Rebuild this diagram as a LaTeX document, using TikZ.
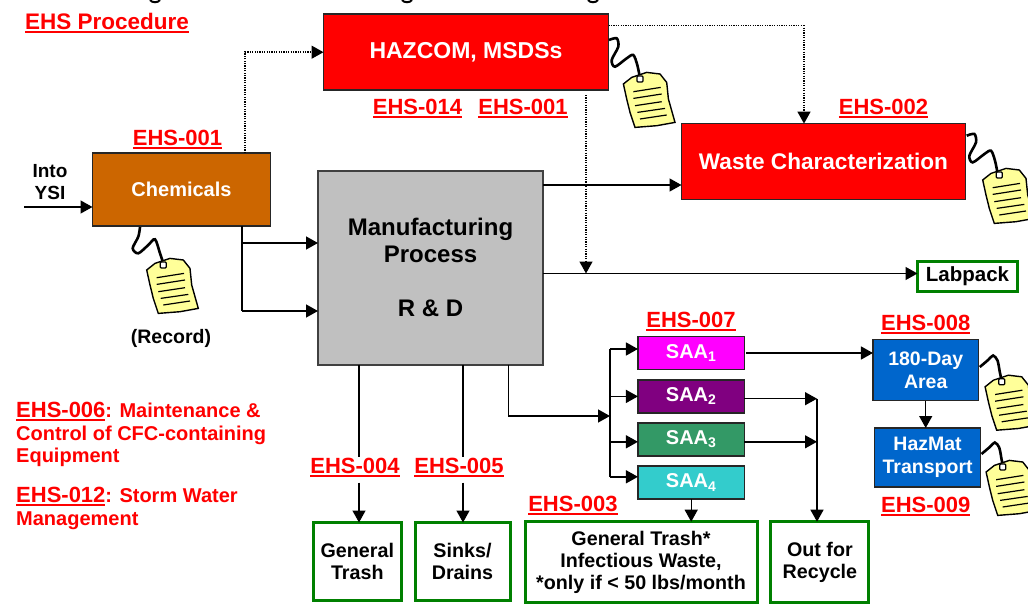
\documentclass[tikz,border=0pt]{standalone}
\usepackage{fontspec}
\setmainfont{Liberation Sans}
\usetikzlibrary{arrows.meta,positioning}
\definecolor{ehsred}{HTML}{FF0000}
\definecolor{ehsbrown}{HTML}{CC6600}
\definecolor{ehsgrey}{HTML}{C0C0C0}
\definecolor{ehsgreen}{HTML}{008000}
\definecolor{ehsblue}{HTML}{0066CC}
\definecolor{ehstag}{HTML}{FFFF99}
\definecolor{saaone}{HTML}{FF00FF}
\definecolor{saatwo}{HTML}{800080}
\definecolor{saathree}{HTML}{339966}
\definecolor{saafour}{HTML}{33CCCC}
\providecommand{\ehsline}[1]{\setbox0\hbox{#1}\rlap{\copy0}\rule[-3.5pt]{\wd0}{2pt}}
\tikzset{
  ehs box/.style={draw=black!85,line width=1.5pt,align=center,inner sep=0pt,outer sep=0pt,font=\bfseries},
  ehs sink/.style={draw=ehsgreen,line width=3pt,fill=white,align=center,inner sep=0pt,outer sep=0pt,font=\fontsize{19.7}{22}\selectfont\bfseries},
  ehs saa/.style={ehs box,minimum width=106.5pt,minimum height=33pt,text=white,font=\fontsize{20}{22}\selectfont\bfseries},
  ehs ref/.style={text=ehsred,anchor=base,inner sep=0pt,font=\fontsize{22}{24}\selectfont\bfseries},
  ehs note/.style={inner sep=0pt,align=center,font=\fontsize{19}{21.5}\selectfont\bfseries},
  ehs flow/.style={line width=1.4pt,-{Triangle[length=12pt,width=13pt]}},
  ehs line/.style={line width=1.4pt},
  ehs dotted/.style={line width=1.4pt,dash pattern=on 1.2pt off 1.2pt},
  ehs dotted flow/.style={ehs dotted,-{Triangle[length=12pt,width=13pt,sep=0pt]}},
  ehs string/.style={black,line width=2.6pt},
  pics/note tag/.style={code={
    \draw[black,line width=1.4pt,fill=ehstag]
      (-16.6,5) -- (-8.3,-1.6) -- (6.7,-6.6) -- (20,-5) -- (26.7,3.4) -- (28.4,20)
      -- (35,43.4) -- (16.7,46.7) -- (-5,48.4) -- (-10,33.4) -- (-13.3,20) -- cycle;
    \foreach \xa/\ya/\xb/\yb in {-6.6/12.7/20.7/8.4,-6.6/19.4/21.7/15,-5/26.7/21.7/22.7,-2.6/33.4/25/29.4,0/40/26.7/36}
      \draw[black,line width=1.2pt] (\xa,\ya) -- (\xb,\yb);
    \draw[black,line width=1.2pt,fill=white,rounded corners=1pt] (-3,-3) rectangle (3,3);
  }}
}

\begin{document}
\begin{tikzpicture}[x=1pt,y=-1pt]
  \clip (0,0) rectangle (1028,610);
  % title cut off at the top edge
  \foreach \x in {155,407,593}
    \draw[line width=2pt] (\x-5,0) .. controls (\x-3,3) and (\x+3,3) .. (\x+5,0);
  % boxes
  \node[ehs box,fill=ehsbrown,minimum width=178pt,minimum height=73pt,text=white,
    font=\fontsize{20}{22}\selectfont\bfseries] (chemicals) at (181.5,189.5) {Chemicals};
  \node[ehs box,fill=ehsred,minimum width=285pt,minimum height=76pt,text=white,
    font=\fontsize{23}{25}\selectfont\bfseries] (hazcom) at (466,52.2) {HAZCOM, MSDSs};
  \node[ehs box,fill=ehsgrey,draw=black!75,line width=2pt,minimum width=225pt,minimum height=194pt,
    font=\fontsize{24}{27}\selectfont\bfseries] (process) at (430.5,267.5) {Manufacturing\\Process\\[27pt]R \& D};
  \node[ehs box,fill=ehsred,minimum width=284pt,minimum height=76pt,text=white,
    font=\fontsize{22.6}{25}\selectfont\bfseries] (waste) at (823.5,161.6) {Waste Characterization};
  \node[ehs sink,minimum width=100pt,minimum height=30pt,font=\fontsize{20.5}{22}\selectfont\bfseries]
    (labpack) at (967.5,276.3) {\raisebox{-2pt}{Labpack}};
  \foreach \name/\num/\y in {saaone/1/353,saatwo/2/396.4,saathree/3/439.5,saafour/4/482.5}
    \node[ehs saa,fill=\name] (\name) at (691.2,\y) {SAA\textsubscript{\num}};
  \node[ehs box,fill=ehsblue,minimum width=105.5pt,minimum height=61pt,text=white,
    font=\fontsize{19.5}{22.5}\selectfont\bfseries] (dayarea) at (925.7,370.2) {180-Day\\Area};
  \node[ehs box,fill=ehsblue,minimum width=105.8pt,minimum height=59pt,text=white,
    font=\fontsize{19.5}{22.5}\selectfont\bfseries] (hazmat) at (927.6,457.5) {HazMat\\Transport};
  \node[ehs sink,minimum width=88pt,minimum height=78pt] (trash) at (357.3,561.5) {General\\Trash};
  \node[ehs sink,minimum width=95pt,minimum height=78pt] (sinks) at (462.5,561.5) {Sinks/\\Drains};
  \node[ehs sink,minimum width=232pt,minimum height=81pt] (infectious) at (641,562.2) {General Trash*\\Infectious Waste,\\*only if < 50 lbs/month};
  \node[ehs sink,minimum width=98pt,minimum height=81pt] (recycle) at (819.9,562.2) {Out for\\Recycle};
  % texts
  \node[ehs ref,font=\fontsize{22.5}{24}\selectfont\bfseries] (procedure) at (107,30) {\ehsline{EHS Procedure}};
  \node[ehs ref] (refchem) at (177.5,145) {\ehsline{EHS-001}};
  \node[ehs ref] (refhaz) at (417.5,114) {\ehsline{EHS-014}};
  \node[ehs ref] (refmsds) at (523,114) {\ehsline{EHS-001}};
  \node[ehs ref] (refwaste) at (883.5,114) {\ehsline{EHS-002}};
  \node[ehs ref] (refsaa) at (691,327.6) {\ehsline{EHS-007}};
  \node[ehs ref] (refarea) at (925.8,330) {\ehsline{EHS-008}};
  \node[ehs ref] (reftransport) at (925.8,512.8) {\ehsline{EHS-009}};
  \node[ehs ref] (refinfectious) at (572.9,511.5) {\ehsline{EHS-003}};
  \node[ehs ref] (reftrash) at (355,473) {\ehsline{EHS-004}};
  \node[ehs ref] (refsinks) at (459,473) {\ehsline{EHS-005}};
  \node[ehs note] (into) at (50,182) {Into\\YSI};
  \node[ehs note,font=\fontsize{19.5}{21.5}\selectfont\bfseries] (record) at (171,338) {(Record)};
  \node[ehs note,text=ehsred,align=left,anchor=north west,font=\fontsize{20}{22.7}\selectfont\bfseries]
    (maintenance) at (16,402) {{\fontsize{22}{22.7}\selectfont\ehsline{EHS-006}}: Maintenance \&\\Control of CFC-containing\\Equipment};
  \node[ehs note,text=ehsred,align=left,anchor=north west,font=\fontsize{20}{22.7}\selectfont\bfseries]
    (stormwater) at (16,487) {{\fontsize{22}{22.7}\selectfont\ehsline{EHS-012}}: Storm Water\\Management};
  % connectors
  \coordinate (yin) at (24,207);
  \coordinate (chemdot) at (245,0);
  \coordinate (chemtap) at (242,0);
  \coordinate (hazrow) at (0,25.3);
  \coordinate (hazdrop) at (586,95);
  \coordinate (wastedrop) at (804,0);
  \coordinate (wasterow) at (0,185);
  \coordinate (packrow) at (0,273.5);
  \coordinate (rowa) at (0,243);
  \coordinate (rowb) at (0,311);
  \coordinate (procone) at (359,0);
  \coordinate (proctwo) at (463,0);
  \coordinate (procthree) at (508.4,0);
  \coordinate (saabus) at (610,416);
  \coordinate (busone) at (0,349);
  \coordinate (busfour) at (0,476.8);
  \coordinate (recbus) at (817,398.7);
  \coordinate (rowthree) at (0,441.8);
  \draw[ehs flow] (yin) -- (yin -| chemicals.west);
  \draw[ehs dotted flow] (chemicals.north -| chemdot) |- (hazcom.west);
  \draw[ehs dotted] (hazcom.east |- hazrow) -- (wastedrop |- hazrow);
  \draw[ehs dotted flow] (wastedrop |- hazrow) -- (wastedrop |- waste.north);
  \draw[ehs dotted flow] (hazdrop) -- (hazdrop |- packrow);
  \draw[ehs line] (chemicals.south -| chemtap) -- (chemtap |- rowb);
  \draw[ehs flow] (chemtap |- rowa) -- (process.west |- rowa);
  \draw[ehs flow] (chemtap |- rowb) -- (process.west |- rowb);
  \draw[ehs flow] (process.east |- wasterow) -- (waste.west |- wasterow);
  \draw[ehs flow] (process.east |- packrow) -- (labpack.west |- packrow);
  \draw[ehs line] (process.south -| procone) -- (procone |- reftrash.north);
  \draw[ehs flow] (procone |- reftrash.south) ++(0,6) -- (procone |- trash.north);
  \draw[ehs line] (process.south -| proctwo) -- (proctwo |- refsinks.north);
  \draw[ehs flow] (proctwo |- refsinks.south) ++(0,6) -- (proctwo |- sinks.north);
  \draw[ehs flow] (process.south -| procthree) |- (saabus);
  \draw[ehs line] (saabus |- busone) -- (saabus |- busfour);
  \draw[ehs flow] (saabus |- busone) -- (saaone.west |- busone);
  \draw[ehs flow] (saabus |- saatwo.west) -- (saatwo.west);
  \draw[ehs flow] (saabus |- rowthree) -- (saathree.west |- rowthree);
  \draw[ehs flow] (saabus |- busfour) -- (saafour.west |- busfour);
  \draw[ehs flow] (saaone.east) ++(2,0) -- (dayarea.west |- saaone.east);
  \draw[ehs flow] (saatwo.east |- recbus) -- (recbus);
  \draw[ehs flow] (saathree.east |- rowthree) -- (recbus |- rowthree);
  \draw[ehs flow] (recbus) -- (recbus |- recycle.north);
  \draw[ehs flow] (saafour.south) -- (saafour.south |- infectious.north);
  \draw[ehs flow] (dayarea.south) -- (dayarea.south |- hazmat.north);
  % tags
  \draw[ehs string] plot[smooth] coordinates {(140,227) (138.3,236.7) (132.7,248.3) (138.3,253.3) (148.3,245) (155,239.3) (160,253.3) (163.3,263.3)};
  \pic at (163.3,265) {note tag};
  \foreach \sx/\sy in {609/40,966.7/135.7}
    \draw[ehs string,shift={(\sx,\sy)}] plot[smooth] coordinates {(0,0) (7.7,-1.7) (9.3,6.7) (2.7,20) (6,26.7) (17.7,18.3) (24.3,15) (28.3,25) (31,38.3)};
  \pic at (640,79) {note tag};
  \pic at (999.3,175) {note tag};
  \foreach \sx/\sy in {979.8/367,981.5/454}
    \draw[ehs string,shift={(\sx,\sy)}] plot[smooth] coordinates {(0,0) (8.3,-7) (13.3,-11.5) (17.7,-6.5) (20,5) (21.7,13)};
  \pic at (1001.7,381.8) {note tag};
  \pic at (1002.7,467) {note tag};
\end{tikzpicture}
\end{document}
